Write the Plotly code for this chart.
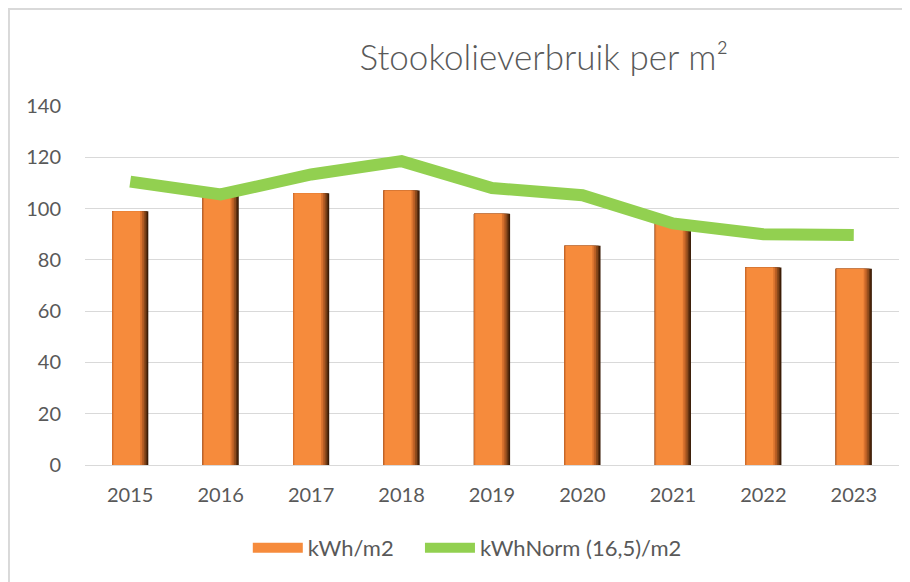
import plotly.graph_objects as go

years = ["2015", "2016", "2017", "2018", "2019", "2020", "2021", "2022", "2023"]
kwh_m2 = [99, 105, 106, 107, 98, 85.5, 95, 77, 76.5]
kwh_norm_m2 = [110.5, 105.5, 113.3, 118.5, 108, 105.2, 94.2, 90, 89.7]
y_ticks = [0, 20, 40, 60, 80, 100, 120, 140]

title_text = "Stookolieverbruik per m²"
bar_name = "kWh/m2"
line_name = "kWhNorm (16,5)/m2"

FONT = "Lato"
GREY = "#595959"
ORANGE = "#F68B3C"
GREEN = "#92D050"

fig = go.Figure()

# layered bars to imitate the bevelled 3D look
layers = [
    (-0.20, 0.40, "#3a1c06"),
    (-0.20, 0.385, "#5e2f0f"),
    (-0.20, 0.37, "#8c4a1c"),
    (-0.20, 0.35, "#b85e24"),
    (-0.20, 0.33, "#d9732f"),
    (-0.185, 0.295, ORANGE),
]
for i, (off, w, col) in enumerate(layers):
    fig.add_trace(go.Bar(
        x=years, y=kwh_m2, name=bar_name,
        offset=off, width=w,
        marker=dict(color=col, line=dict(width=0)),
        showlegend=False,
        legendgroup="bars",
        hoverinfo="skip" if i < len(layers) - 1 else None,
    ))

# legend entry for the bars (wide swatch like the original)
fig.add_trace(go.Scatter(
    x=[None], y=[None], name=bar_name, mode="lines",
    line=dict(color=ORANGE, width=15), legendgroup="bars", showlegend=True,
    legend="legend",
))

fig.add_trace(go.Scatter(
    x=years, y=kwh_norm_m2, name=line_name, mode="lines",
    line=dict(color=GREEN, width=12), legend="legend2",
))

legend_common = dict(orientation="h", xanchor="left", y=-0.231, yanchor="middle",
                     font=dict(family=FONT, size=22, color=GREY), itemwidth=50,
                     bgcolor="rgba(0,0,0,0)")

fig.update_layout(
    width=902, height=574,
    barmode="overlay",
    paper_bgcolor="white", plot_bgcolor="white",
    margin=dict(l=77, r=11, t=98, b=117),
    title=dict(text=title_text, x=0.594, xanchor="center", y=0.913, yanchor="middle",
               font=dict(family=FONT, size=35, color=GREY, weight=300)),
    font=dict(family=FONT, color=GREY, size=20),
    legend=dict(x=0.2, **legend_common),
    legend2=dict(x=0.4115, **legend_common),
    showlegend=True,
)

fig.update_xaxes(showgrid=False, showline=False, ticks="", tickfont=dict(size=20, color=GREY),
                 ticklabelstandoff=16)
fig.update_yaxes(range=[0, 140], tickvals=y_ticks, showgrid=True, gridcolor="#d9d9d9",
                 gridwidth=1, zeroline=True, zerolinecolor="#d9d9d9", zerolinewidth=1,
                 showline=False, ticks="", tickfont=dict(size=20, color=GREY),
                 ticklabelstandoff=23)

fig.add_shape(type="rect", xref="paper", yref="paper",
              x0=-0.0934, x1=1.03, y0=-0.36, y1=1.270,
              line=dict(color="#d9d9d9", width=2), fillcolor="rgba(0,0,0,0)", layer="below")

fig.write_html("out.html")
